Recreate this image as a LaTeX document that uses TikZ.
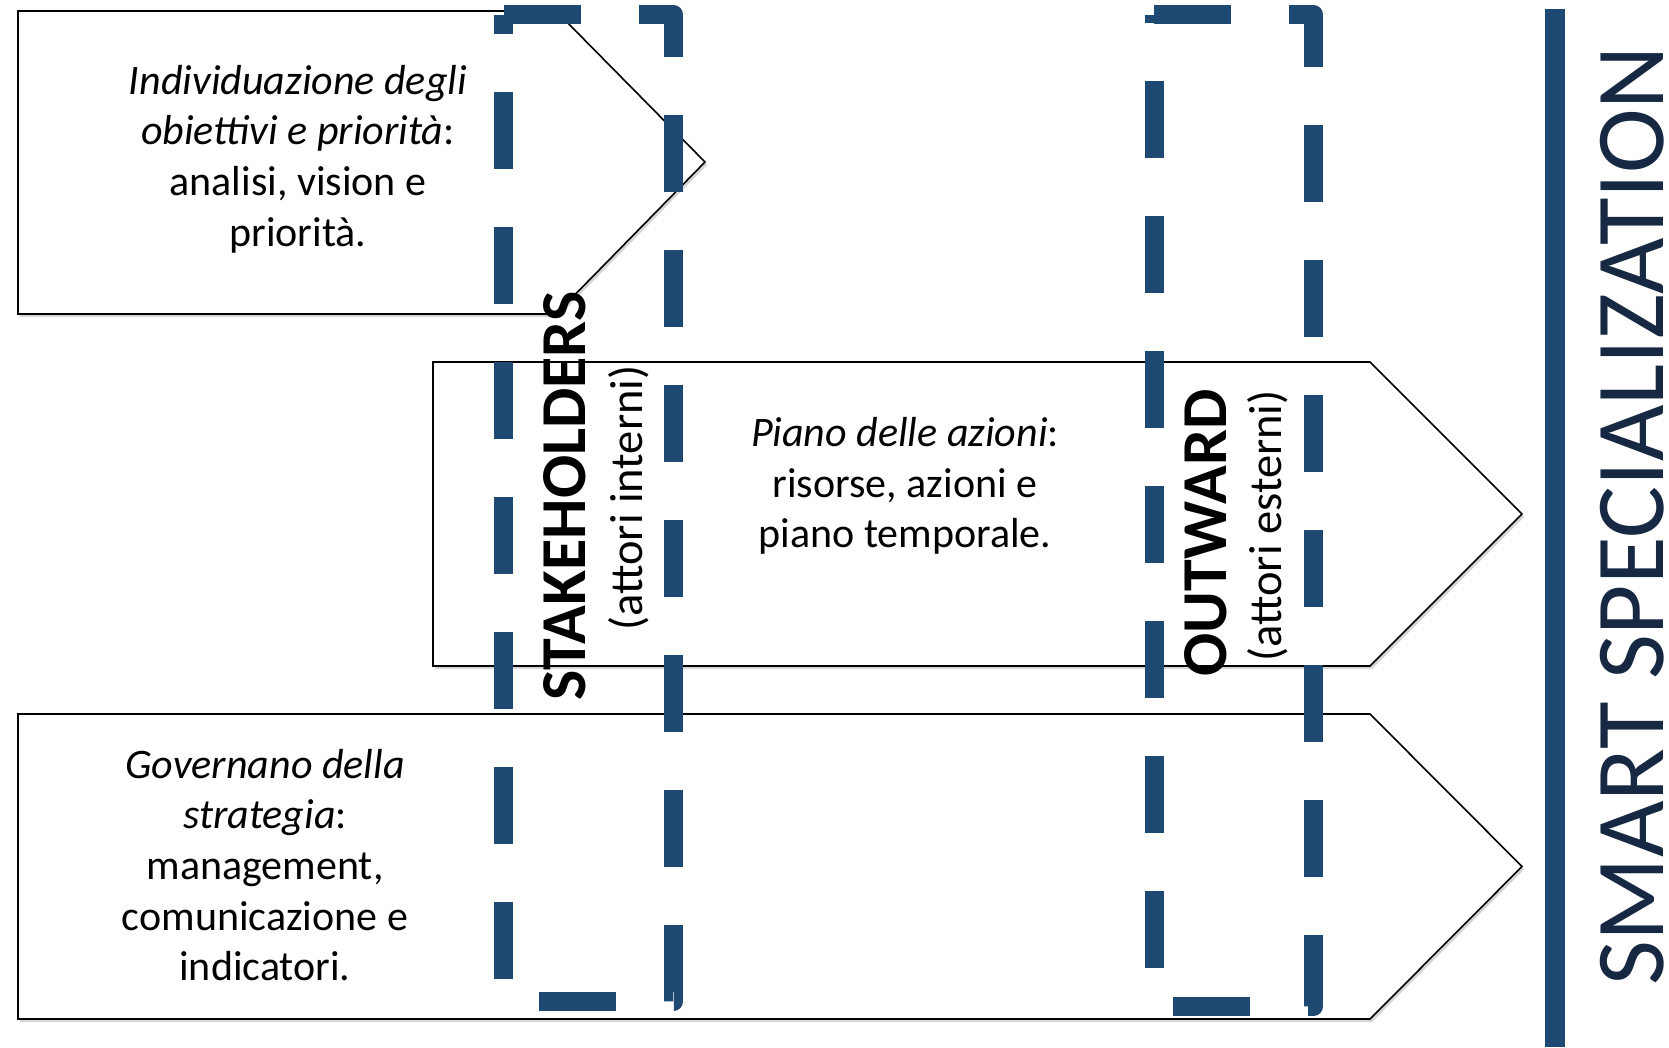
\documentclass[tikz,border=0pt]{standalone}
\usepackage{fontspec}
\setmainfont{Carlito}
\definecolor{dblue}{RGB}{30,73,115}
\definecolor{navy}{RGB}{22,40,66}
\begin{document}
\begin{tikzpicture}[x=1pt,y=-1pt,
  arrowshape/.style={draw=black, line width=1.6pt, fill=white, line join=miter},
  shadowshape/.style={fill=black!16, draw=none},
  dashbox/.style={draw=dblue, line width=19pt, dash pattern=on 77pt off 58pt, line join=round, line cap=butt},
  bodytext/.style={align=center, font=\fontsize{42}{50.7}\selectfont, inner sep=0pt},
  vtitle/.style={rotate=90, anchor=base, inner sep=0pt, font=\fontsize{64}{70}\selectfont\bfseries},
  vsub/.style={rotate=90, anchor=base, inner sep=0pt, font=\fontsize{46.5}{52}\selectfont},
  bigtitle/.style={rotate=90, anchor=base, inner sep=0pt, text=navy, font=\fontsize{97.5}{110}\selectfont}
]
\useasboundingbox[fill=white] (0,0) rectangle (1669,1047);

% shadows
\fill[shadowshape] (20,14) -- (558,14) -- (707,165) -- (558,317) -- (20,317) -- cycle;
\fill[shadowshape] (435,365) -- (1372,365) -- (1524,517) -- (1372,669) -- (435,669) -- cycle;
\fill[shadowshape] (20,717) -- (1372,717) -- (1524,869.5) -- (1372,1022) -- (20,1022) -- cycle;

% arrows
\draw[arrowshape] (18,11) -- (556,11) -- (705,162) -- (556,314) -- (18,314) -- cycle;
\draw[arrowshape] (433,362) -- (1370,362) -- (1522,514) -- (1370,666) -- (433,666) -- cycle;
\draw[arrowshape] (18,714) -- (1370,714) -- (1522,866.5) -- (1370,1019) -- (18,1019) -- cycle;

% dashed boxes
\draw[dashbox] (503.5,14.5) -- (673.5,14.5) -- (673.5,1001.5) -- (503.5,1001.5) -- cycle;
\draw[dashbox] (1154,14.5) -- (1313.5,14.5) -- (1313.5,1006.5) -- (1154,1006.5) -- cycle;

% bar
\draw[dblue, line width=20pt] (1555,9) -- (1555,1047);

% texts
\node[bodytext] (t1) at (298,159) {\textit{Individuazione degli}\\\textit{obiettivi e priorità}:\\analisi, vision e\\priorità.};
\node[bodytext] (t2) at (905,486) {\textit{Piano delle azioni}:\\risorse, azioni e\\piano temporale.};
\node[bodytext] (t3) at (265,865) {\textit{Governano della}\\\textit{strategia}:\\management,\\comunicazione e\\indicatori.};

\node[vtitle] (sh) at (585,496) {STAKEHOLDERS};
\node[vsub] (shs) at (642,498) {(attori interni)};
\node[vtitle] (ow) at (1226,533) {OUTWARD};
\node[vsub] (ows) at (1281,526) {(attori esterni)};
\node[bigtitle] (ss) at (1663,516) {SMART SPECIALIZATION};
\end{tikzpicture}
\end{document}
